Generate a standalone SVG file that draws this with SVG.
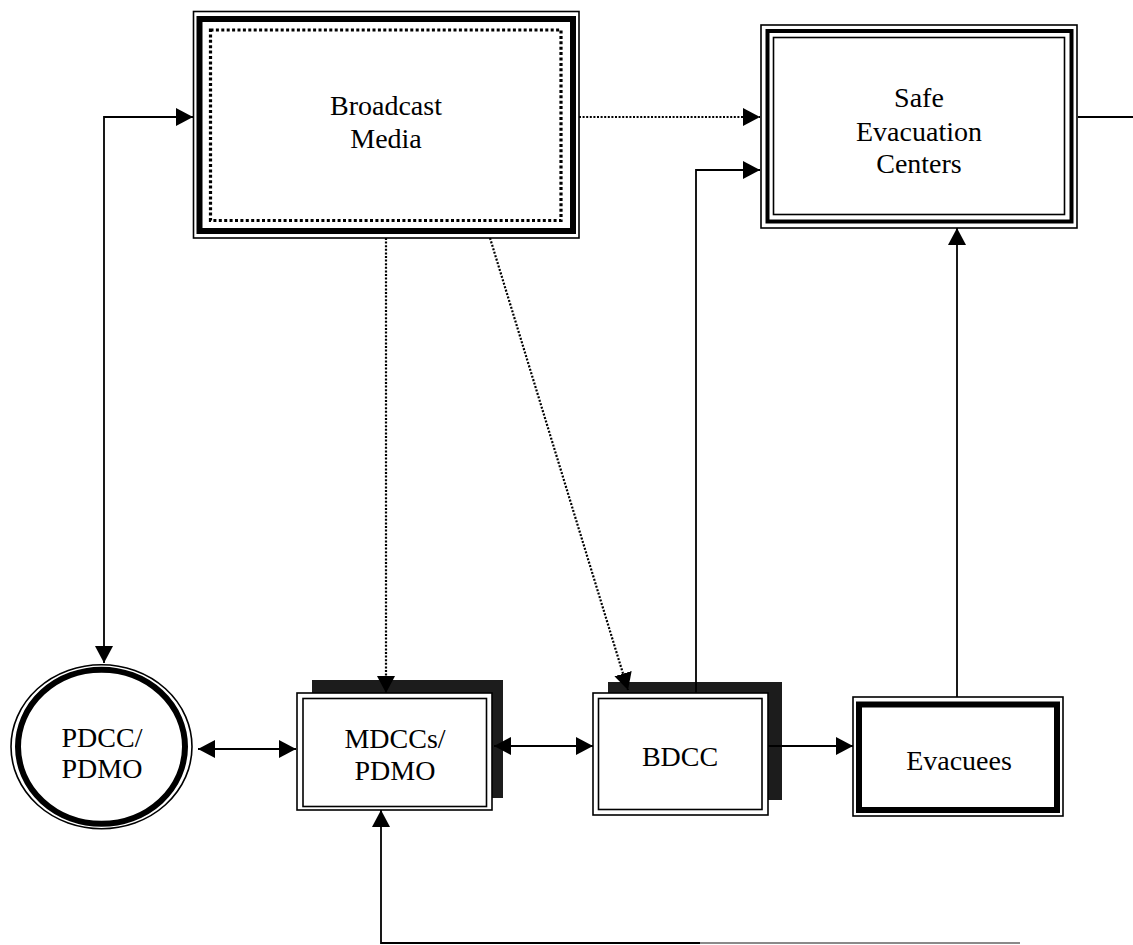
<svg xmlns="http://www.w3.org/2000/svg" width="1133" height="945" viewBox="0 0 1133 945">
  <style>
    .thin { fill: none; stroke: #000; stroke-width: 1.6; }
    .thick { fill: none; stroke: #000; stroke-width: 6; }
    .mid { fill: none; stroke: #000; stroke-width: 4; }
    .shadow { fill: #1c1c1c; }
    .label { font-family: "Liberation Serif", "Times New Roman", serif; font-size: 28px; fill: #000; text-anchor: middle; }
    .link { fill: none; stroke: #000; stroke-width: 1.8; }
    .dotted { fill: none; stroke: #000; stroke-width: 2.2; stroke-dasharray: 2 1.6; }
  </style>
  <defs>
    <marker id="arrow" markerUnits="userSpaceOnUse" markerWidth="18" markerHeight="18" refX="17" refY="9" orient="auto-start-reverse">
      <path d="M0,0 L17,9 L0,18 z" fill="#000"/>
    </marker>
  </defs>
  <rect width="1133" height="945" fill="#fff"/>

  <!-- Broadcast Media -->
  <g id="broadcast-media">
    <rect x="193.5" y="11.5" width="385.5" height="226.5" class="thin"/>
    <rect x="199.5" y="19" width="373.5" height="212" class="thick"/>
    <rect x="210.5" y="30" width="350.5" height="190.5" fill="#fff" stroke="#000" stroke-width="3.2" stroke-dasharray="3 2.4"/>
    <text class="label" x="386" y="115">Broadcast</text>
    <text class="label" x="386" y="148">Media</text>
  </g>

  <!-- Safe Evacuation Centers -->
  <g id="safe-evacuation-centers">
    <rect x="761" y="25" width="316" height="203" class="thin" stroke-width="2"/>
    <rect x="767.5" y="31" width="304" height="190.5" class="mid"/>
    <rect x="773.5" y="37.5" width="291" height="177" class="thin" stroke-width="2.4"/>
    <text class="label" x="919" y="107">Safe</text>
    <text class="label" x="919" y="141">Evacuation</text>
    <text class="label" x="919" y="173">Centers</text>
  </g>

  <!-- PDCC/PDMO -->
  <g id="pdcc-pdmo">
    <ellipse cx="101.5" cy="746.75" rx="90.5" ry="82" class="thin"/>
    <ellipse cx="101.5" cy="746.75" rx="83.5" ry="77" class="thick"/>
    <text class="label" x="102" y="747">PDCC/</text>
    <text class="label" x="102" y="778">PDMO</text>
  </g>

  <!-- MDCCs/PDMO -->
  <g id="mdccs-pdmo">
    <rect x="312" y="680" width="191" height="118" class="shadow"/>
    <rect x="297" y="693" width="195" height="117" fill="#fff" stroke="#000" stroke-width="1.6"/>
    <rect x="303" y="698.5" width="183.5" height="108" class="thin"/>
    <text class="label" x="395" y="748">MDCCs/</text>
    <text class="label" x="395" y="780">PDMO</text>
  </g>

  <!-- BDCC -->
  <g id="bdcc">
    <rect x="608" y="682" width="174" height="118" class="shadow"/>
    <rect x="593" y="693" width="175" height="122" fill="#fff" stroke="#000" stroke-width="1.6"/>
    <rect x="598.5" y="698.5" width="163.5" height="111" class="thin"/>
    <text class="label" x="680" y="766">BDCC</text>
  </g>

  <!-- Evacuees -->
  <g id="evacuees">
    <rect x="853" y="697" width="210" height="119" fill="#fff" stroke="#000" stroke-width="1.6"/>
    <rect x="859" y="704.5" width="198" height="105.5" class="thick"/>
    <text class="label" x="959" y="770">Evacuees</text>
  </g>

  <!-- connectors, drawn over the node shadows -->
  <g id="connectors">
    <path class="dotted" d="M579,117 H760" marker-end="url(#arrow)"/>
    <path class="dotted" d="M386,238 V693" marker-end="url(#arrow)"/>
    <path class="dotted" d="M490,238 L628,690" marker-end="url(#arrow)"/>
    <path class="link" d="M104,663 V117 H193" marker-start="url(#arrow)" marker-end="url(#arrow)"/>
    <path class="link" d="M696,693 V170 H760" marker-end="url(#arrow)"/>
    <path class="link" d="M957,697 V228" marker-end="url(#arrow)"/>
    <path class="link" d="M1078,117 H1133"/>
    <path class="link" d="M198,749 H296" marker-start="url(#arrow)" marker-end="url(#arrow)"/>
    <path class="link" d="M494,746 H593" marker-start="url(#arrow)" marker-end="url(#arrow)"/>
    <path class="link" d="M768,746 H853" marker-end="url(#arrow)"/>
    <path class="link" d="M700,943 H381 V810" marker-end="url(#arrow)"/>
    <path d="M700,943 H1020" fill="none" stroke="#8a8a8a" stroke-width="1.8"/>
  </g>
</svg>
